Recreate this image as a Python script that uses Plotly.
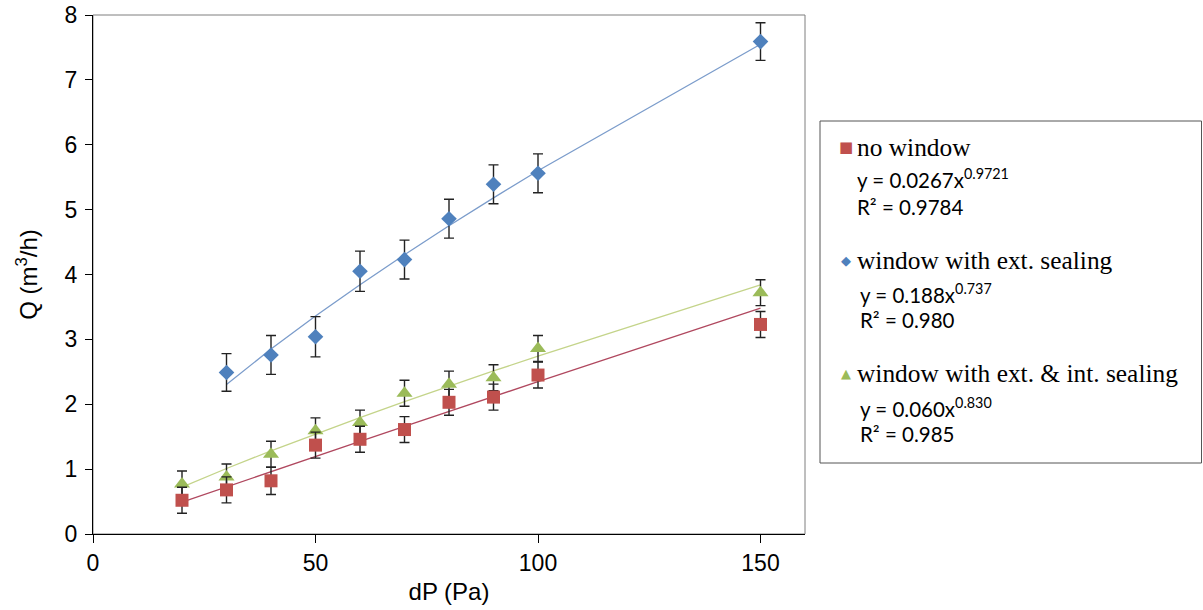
import plotly.graph_objects as go

# ---------------- data ----------------
dp_all = [20, 30, 40, 50, 60, 70, 80, 90, 100, 150]
dp_ext = [30, 40, 50, 60, 70, 80, 90, 100, 150]

q_no_window = [0.52, 0.68, 0.82, 1.37, 1.46, 1.61, 2.03, 2.11, 2.45, 3.23]
err_no_window = [0.20, 0.20, 0.21, 0.20, 0.20, 0.20, 0.20, 0.20, 0.20, 0.20]

q_ext = [2.49, 2.76, 3.04, 4.05, 4.23, 4.86, 5.39, 5.56, 7.59]
err_ext = [0.29, 0.30, 0.31, 0.31, 0.30, 0.30, 0.30, 0.30, 0.29]

q_ext_int = [0.77, 0.88, 1.23, 1.59, 1.72, 2.17, 2.31, 2.41, 2.86, 3.72]
err_ext_int = [0.20, 0.20, 0.20, 0.20, 0.19, 0.20, 0.20, 0.20, 0.20, 0.20]

# power-law trendlines shown in the chart: y = a * x^b  (a, b, R^2)
fit_no_window = (0.0267, 0.9721, 0.9784)
fit_ext = (0.188, 0.737, 0.980)
fit_ext_int = (0.060, 0.830, 0.985)

series_names = ["no window", "window with ext. sealing", "window with ext. & int. sealing"]
x_ticks = [0, 50, 100, 150]
y_ticks = [0, 1, 2, 3, 4, 5, 6, 7, 8]

RED, BLUE, GREEN = "#C0504D", "#4F81BD", "#9BBB59"
RED_LINE, BLUE_LINE, GREEN_LINE = "#B0485F", "#7B9CCB", "#C4D48A"


def trend(xs, fit):
    a, b, _ = fit
    return [a * x ** b for x in xs]


fig = go.Figure()

# trendlines
fig.add_trace(go.Scatter(x=dp_ext, y=trend(dp_ext, fit_ext), mode="lines",
                         line=dict(color=BLUE_LINE, width=1.3), showlegend=False, hoverinfo="skip"))
fig.add_trace(go.Scatter(x=dp_all, y=trend(dp_all, fit_ext_int), mode="lines",
                         line=dict(color=GREEN_LINE, width=1.3), showlegend=False, hoverinfo="skip"))
fig.add_trace(go.Scatter(x=dp_all, y=trend(dp_all, fit_no_window), mode="lines",
                         line=dict(color=RED_LINE, width=1.3), showlegend=False, hoverinfo="skip"))

err_style = dict(type="data", color="#222222", thickness=1.4, width=5)

fig.add_trace(go.Scatter(x=dp_ext, y=q_ext, mode="markers", name=series_names[1],
                         marker=dict(symbol="diamond", size=12, color=BLUE),
                         error_y=dict(array=err_ext, **err_style), showlegend=False))
fig.add_trace(go.Scatter(x=dp_all, y=q_ext_int, mode="markers", name=series_names[2],
                         marker=dict(symbol="triangle-up", size=14, color=GREEN),
                         error_y=dict(array=err_ext_int, **err_style), showlegend=False))
fig.add_trace(go.Scatter(x=dp_all, y=q_no_window, mode="markers", name=series_names[0],
                         marker=dict(symbol="square", size=13, color=RED),
                         error_y=dict(array=err_no_window, **err_style), showlegend=False))

# plot geometry (pixels)
L, R, T, B = 93, 805, 15, 534
W, H = 1203, 610
PW, PH = R - L, B - T


def px(xp):
    return (xp - L) / PW


def py(yp):
    return (B - yp) / PH


annotations = []
shapes = []

# plot area border
shapes.append(dict(type="rect", xref="paper", yref="paper", x0=0, x1=1, y0=0, y1=1,
                   line=dict(color="#7F7F7F", width=1), layer="below"))
# legend box
shapes.append(dict(type="rect", xref="paper", yref="paper", x0=px(820), x1=px(1201.5),
                   y0=py(463), y1=py(121), line=dict(color="#555555", width=1), layer="below"))

SERIF = "Liberation Serif"
SANS = "Lato"

legend_rows = [
    (series_names[0], "■", RED, 15, 147, 857, fit_no_window, "%.4f", "%.4f", "%.4f", 178, 207),
    (series_names[1], "◆", BLUE, 13, 260, 860, fit_ext, "%.3f", "%.3f", "%.3f", 293, 320),
    (series_names[2], "▲", GREEN, 13, 373, 860, fit_ext_int, "%.3f", "%.3f", "%.3f", 407, 434),
]
for name, sym, col, ssize, yrow, xeq, fit, fa, fb, fr, yeq, yr2 in legend_rows:
    annotations.append(dict(xref="paper", yref="paper", x=px(846), y=py(yrow), text=sym,
                            showarrow=False, xanchor="center", yanchor="middle",
                            font=dict(family="DejaVu Sans", size=ssize, color=col)))
    annotations.append(dict(xref="paper", yref="paper", x=px(855), y=py(yrow), text=name,
                            showarrow=False, xanchor="left", yanchor="middle",
                            font=dict(family=SERIF, size=25.4, color="black")))
    a, b, r2 = fit
    eq = "y = " + (fa % a) + "x<sup>" + (fb % b) + "</sup>"
    annotations.append(dict(xref="paper", yref="paper", x=px(xeq - 2), y=py(yeq), text=eq,
                            showarrow=False, xanchor="left", yanchor="middle",
                            font=dict(family=SANS, size=20.5, color="black")))
    annotations.append(dict(xref="paper", yref="paper", x=px(xeq - 2), y=py(yr2),
                            text="R² = " + (fr % r2),
                            showarrow=False, xanchor="left", yanchor="middle",
                            font=dict(family=SANS, size=20.5, color="black")))

axis_font = dict(family="Liberation Sans", size=23, color="black")

fig.update_layout(
    width=W, height=H,
    margin=dict(l=L, r=W - R, t=T, b=H - B, pad=0, autoexpand=False),
    paper_bgcolor="white", plot_bgcolor="white",
    showlegend=False,
    shapes=shapes, annotations=annotations,
    xaxis=dict(range=[0, 160], tickvals=x_ticks, ticktext=[str(v) for v in x_ticks],
               automargin=False,
               showgrid=False, zeroline=False, showline=True, linecolor="black", linewidth=1,
               ticks="outside", ticklen=8, tickcolor="black", tickfont=axis_font,
               title=dict(text="dP (Pa)", font=dict(family="Liberation Sans", size=24, color="black"),
                          standoff=8)),
    yaxis=dict(range=[0, 8], tickvals=y_ticks, ticktext=[str(v) for v in y_ticks],
               automargin=False, ticklabelstandoff=3,
               showgrid=False, zeroline=False, showline=True, linecolor="black", linewidth=1,
               ticks="outside", ticklen=7, tickcolor="black", tickfont=axis_font,
               title=dict(text="Q (m<sup>3</sup>/h)",
                          font=dict(family="Liberation Sans", size=24, color="black"), standoff=20)),
)

fig.write_html("out.html", config={"displayModeBar": False},
               post_script="document.body.style.margin='0';")
